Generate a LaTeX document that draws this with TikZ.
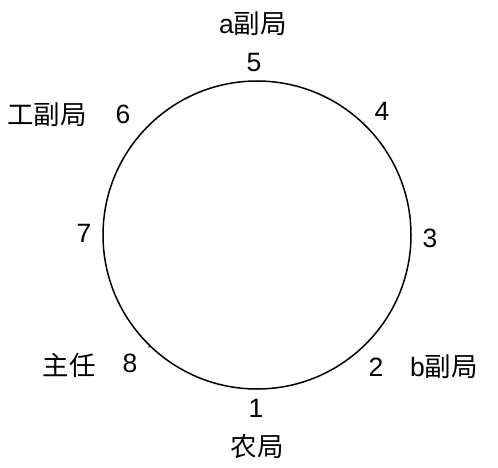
\documentclass[tikz,border=0pt]{standalone}
\usepackage{fontspec}
\setmainfont{Liberation Sans}
\newfontfamily\cjk{Noto Sans CJK SC}
\usetikzlibrary{calc}
\begin{document}
\begin{tikzpicture}[x=1pt,y=1pt,
  lbl/.style={inner sep=0pt,font=\fontsize{26.5}{30}\selectfont}]
\useasboundingbox (0,0) rectangle (498,467);
\coordinate (c) at (257,232);
\draw[line width=1.5pt] (c) circle[radius=154];
\draw[line width=1pt] ($(c)+(226:153.5)$) -- ($(c)+(226:156)$);
\node[lbl] (n5) at (254,404) {5};
\node[lbl] (t5) at (253,443) {a{\cjk 副局}};
\node[lbl] (n6) at (123,353) {6};
\node[lbl] (t6) at (47,352) {{\cjk 工副局}};
\node[lbl] (n4) at (382,356) {4};
\node[lbl] (n3) at (430,229) {3};
\node[lbl] (n2) at (376,100) {2};
\node[lbl] (t2) at (444,100) {b{\cjk 副局}};
\node[lbl] (n7) at (84,234) {7};
\node[lbl] (n8) at (130,104) {8};
\node[lbl] (t8) at (69,102) {{\cjk 主任}};
\node[lbl] (n1) at (256,59) {1};
\node[lbl] (t1) at (257,21) {{\cjk 农局}};
\end{tikzpicture}
\end{document}
